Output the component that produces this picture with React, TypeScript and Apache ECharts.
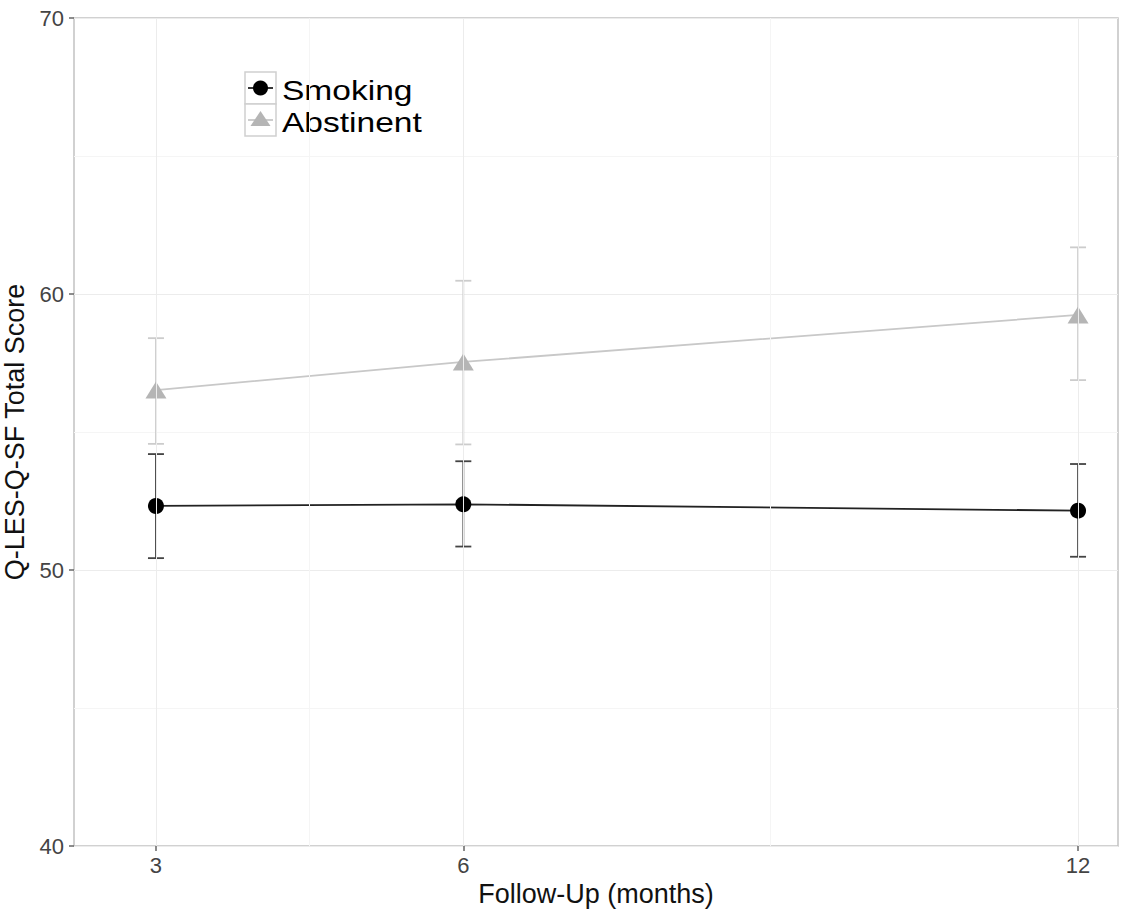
import React, { useEffect, useRef } from "react";
import * as echarts from "echarts";

const months = [3, 6, 12];
const smokingMean = [52.32, 52.38, 52.15];
const smokingLow = [50.43, 50.85, 50.48];
const smokingHigh = [54.2, 53.94, 53.84];
const abstinentMean = [56.52, 57.54, 59.24];
const abstinentLow = [54.57, 54.55, 56.88];
const abstinentHigh = [58.4, 60.48, 61.69];
const xTicks = [3, 6, 12];
const xMinorGrid = [4.5, 9];

const SMOKE_COLOR = "#000000";
const SMOKE_LINE = "#222222";
const SMOKE_ERR = "#444444";
const ABST_COLOR = "#b5b5b5";
const ABST_LINE = "#c8c8c8";
const ABST_ERR = "#cccccc";

function errorRender(color: string) {
  return (params: any, api: any) => {
    const x = api.value(0);
    const lo = api.value(1);
    const hi = api.value(2);
    const top = api.coord([x, hi]);
    const bot = api.coord([x, lo]);
    const w = 8;
    const style = { stroke: color, lineWidth: 1.8 };
    return {
      type: "group",
      children: [
        { type: "line", shape: { x1: top[0], y1: top[1], x2: bot[0], y2: bot[1] }, style },
        { type: "line", shape: { x1: top[0] - w, y1: top[1], x2: top[0] + w, y2: top[1] }, style },
        { type: "line", shape: { x1: bot[0] - w, y1: bot[1], x2: bot[0] + w, y2: bot[1] }, style },
      ],
    };
  };
}

export default function App() {
  const ref = useRef<HTMLDivElement>(null);
  useEffect(() => {
    if (!ref.current) return;
    const chart = echarts.init(ref.current, null, { renderer: "svg" });
    const font = "'Liberation Sans', Arial, sans-serif";
    const option: any = {
      animation: false,
      backgroundColor: "#ffffff",
      grid: {
        left: 74, top: 18, right: 5, bottom: 66,
        containLabel: false, outerBoundsMode: "none",
        show: true, borderColor: "#c2c2c2", borderWidth: 1.5,
      },
      xAxis: {
        type: "value",
        min: 2.2,
        max: 12.39,
        name: "Follow-Up (months)",
        nameLocation: "middle",
        nameGap: 27,
        nameTextStyle: { fontSize: 27, color: "#111", fontFamily: font },
        axisLine: { show: false },
        axisTick: { show: true, customValues: xTicks, length: 5, lineStyle: { color: "#666", width: 1.5 } },
        axisLabel: { customValues: xTicks, fontSize: 22, color: "#444", fontFamily: font, margin: 8 },
        splitLine: { show: false },
      },
      yAxis: {
        type: "value",
        min: 40,
        max: 70,
        interval: 10,
        name: "Q-LES-Q-SF Total Score",
        nameLocation: "middle",
        nameGap: 32,
        nameTextStyle: { fontSize: 27, color: "#111", fontFamily: font },
        axisLine: { show: false },
        axisTick: { show: true, length: 5, lineStyle: { color: "#666", width: 1.5 } },
        axisLabel: { fontSize: 22, color: "#444", fontFamily: font, margin: 10 },
        splitLine: { show: true, lineStyle: { color: "#ececec", width: 1 } },
        minorTick: { show: false, splitNumber: 2 },
        minorSplitLine: { show: true, lineStyle: { color: "#f5f5f5", width: 1 } },
      },
      series: [
        {
          type: "line",
          name: "grid",
          data: [],
          silent: true,
          markLine: {
            silent: true,
            symbol: "none",
            label: { show: false },
            animation: false,
            data: [
              ...xTicks.map((v) => ({ xAxis: v, lineStyle: { color: "#ececec", width: 1, type: "solid" } })),
              ...xMinorGrid.map((v) => ({ xAxis: v, lineStyle: { color: "#f5f5f5", width: 1, type: "solid" } })),
            ],
          },
        },
        {
          type: "custom",
          name: "Abstinent err",
          renderItem: errorRender(ABST_ERR),
          encode: { x: 0, y: [1, 2] },
          data: months.map((m, i) => [m, abstinentLow[i], abstinentHigh[i]]),
          z: 2,
        },
        {
          type: "custom",
          name: "Smoking err",
          renderItem: errorRender(SMOKE_ERR),
          encode: { x: 0, y: [1, 2] },
          data: months.map((m, i) => [m, smokingLow[i], smokingHigh[i]]),
          z: 2,
        },
        {
          type: "line",
          name: "Abstinent",
          data: months.map((m, i) => [m, abstinentMean[i]]),
          symbol: "triangle",
          symbolSize: [21, 17],
          itemStyle: { color: ABST_COLOR },
          lineStyle: { color: ABST_LINE, width: 1.8 },
          z: 3,
        },
        {
          type: "line",
          name: "Smoking",
          data: months.map((m, i) => [m, smokingMean[i]]),
          symbol: "circle",
          symbolSize: 16,
          itemStyle: { color: SMOKE_COLOR },
          lineStyle: { color: SMOKE_LINE, width: 1.8 },
          z: 4,
        },
      ],
      graphic: [
        { type: "rect", shape: { x: 245, y: 72, width: 31, height: 32 }, style: { fill: "#fff", stroke: "#d0d0d0", lineWidth: 1.5 } },
        { type: "rect", shape: { x: 245, y: 104, width: 31, height: 32 }, style: { fill: "#fff", stroke: "#d0d0d0", lineWidth: 1.5 } },
        { type: "line", shape: { x1: 248, y1: 88, x2: 273, y2: 88 }, style: { stroke: SMOKE_LINE, lineWidth: 1.8 } },
        { type: "circle", shape: { cx: 260.5, cy: 88, r: 7.5 }, style: { fill: SMOKE_COLOR } },
        { type: "line", shape: { x1: 248, y1: 120, x2: 273, y2: 120 }, style: { stroke: ABST_LINE, lineWidth: 1.8 } },
        { type: "polygon", shape: { points: [[260.5, 111], [270.5, 126], [250.5, 126]] }, style: { fill: ABST_COLOR } },
        { type: "text", x: 282, y: 90, scaleX: 1.22, style: { text: "Smoking", fontSize: 27.5, fontFamily: font, fill: "#000", verticalAlign: "middle" } },
        { type: "text", x: 282, y: 122, scaleX: 1.22, style: { text: "Abstinent", fontSize: 27.5, fontFamily: font, fill: "#000", verticalAlign: "middle" } },
      ],
    };
    chart.setOption(option);
    return () => chart.dispose();
  }, []);
  return <div ref={ref} style={{ position: "fixed", left: 0, top: 0, width: 1123, height: 912 }} />;
}
